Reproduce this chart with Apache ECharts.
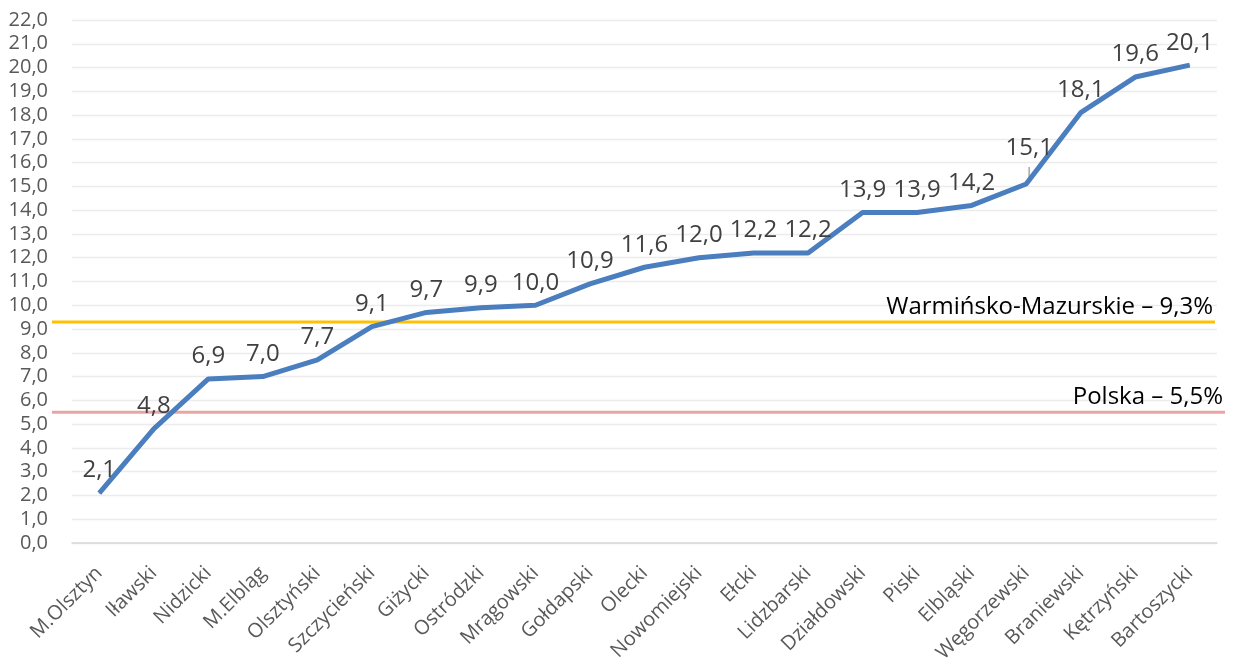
<!DOCTYPE html>
<html><head><meta charset="utf-8">
<script src="https://cdn.jsdelivr.net/npm/echarts@6/dist/echarts.min.js"></script>
<style>html,body{margin:0;padding:0;background:#fff}#c{width:1235px;height:664px}</style>
</head><body><div id="c"></div>
<script>
const categories = ['M.Olsztyn','Iławski','Nidzicki','M.Elbląg','Olsztyński','Szczycieński','Giżycki','Ostródzki','Mrągowski','Gołdapski','Olecki','Nowomiejski','Ełcki','Lidzbarski','Działdowski','Piski','Elbląski','Węgorzewski','Braniewski','Kętrzyński','Bartoszycki'];
const values = [2.1,4.8,6.9,7.0,7.7,9.1,9.7,9.9,10.0,10.9,11.6,12.0,12.2,12.2,13.9,13.9,14.2,15.1,18.1,19.6,20.1];
const refValues = [9.3, 5.5];
const refLabels = ['Warmińsko-Mazurskie – 9,3%', 'Polska – 5,5%'];
const yTicks = {min: 0, max: 22, interval: 1};
const leaderCategory = 'Węgorzewski';

const fmt = v => v.toFixed(1).replace('.', ',');
const font = '"Open Sans", "Noto Sans", sans-serif';
const chart = echarts.init(document.getElementById('c'));
chart.setOption({
  animation: false,
  grid: {left: 72, right: 18, top: 20, bottom: 121, outerBoundsMode: 'none', containLabel: false},
  xAxis: {
    type: 'category', data: categories, boundaryGap: true,
    axisLine: {lineStyle: {color: '#d9d9d9', width: 1.5}},
    axisTick: {show: false},
    axisLabel: {rotate: 45, interval: 0, color: '#595959', fontSize: 20, fontFamily: font, margin: 27}
  },
  yAxis: {
    type: 'value', min: yTicks.min, max: yTicks.max, interval: yTicks.interval,
    axisLine: {show: false}, axisTick: {show: false},
    splitLine: {lineStyle: {color: '#ececec', width: 1.3}},
    axisLabel: {color: '#595959', fontSize: 20, fontFamily: font, margin: 24, formatter: v => fmt(v)}
  },
  series: [{
    type: 'line', data: values, symbol: 'circle', symbolSize: 1, showSymbol: true,
    itemStyle: {color: '#4a7ebf'},
    lineStyle: {color: '#4a7ebf', width: 5},
    label: {
      show: true, position: 'top', distance: 10, color: '#404040', fontSize: 24, fontFamily: font,
      formatter: p => p.name === leaderCategory ? '{hi|' + fmt(p.value) + '}' : fmt(p.value),
      rich: {hi: {padding: [0, 0, 13, 6], fontSize: 24, fontFamily: font, color: '#404040'}}
    },
    labelLayout: {hideOverlap: false},
    z: 3
  }]
});
const refColors = ['#ffc000', '#eba4a4'];
const refRight = [1215, 1225];
const g = [];
refValues.forEach((v, i) => {
  const y = chart.convertToPixel({yAxisIndex: 0}, v);
  g.push({type: 'line', shape: {x1: 52, y1: y, x2: refRight[i], y2: y}, style: {stroke: refColors[i], lineWidth: 3}, z: 2});
  g.push({type: 'text', x: refRight[i] - 2, y: y - 3, style: {text: refLabels[i], fill: '#000', font: '24px ' + font, textAlign: 'right', textVerticalAlign: 'bottom'}, z: 2});
});
const li = categories.indexOf(leaderCategory);
const lp = chart.convertToPixel({seriesIndex: 0}, [li, values[li]]);
g.push({type: 'line', shape: {x1: lp[0] + 3, y1: lp[1] - 2, x2: lp[0] + 3, y2: lp[1] - 17}, style: {stroke: '#a6a6a6', lineWidth: 1.5}, z: 2});
chart.setOption({graphic: g});
</script></body></html>
